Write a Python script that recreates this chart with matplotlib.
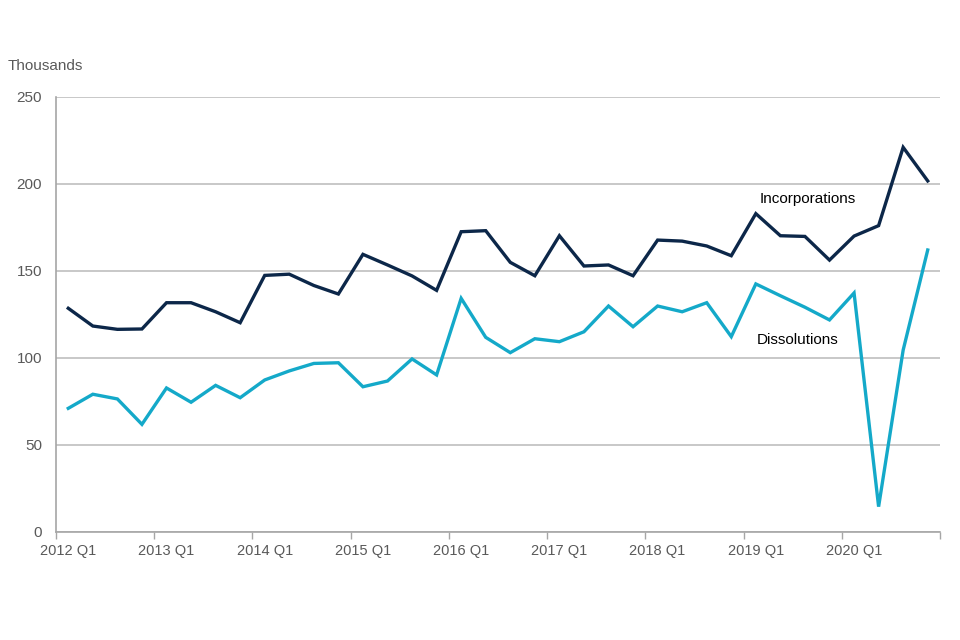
import matplotlib
matplotlib.use('Agg')
import matplotlib.pyplot as plt
import numpy as np

plt.rcParams['font.family'] = ['Liberation Sans', 'DejaVu Sans']

# Quarterly figures, 2012 Q1 to 2020 Q4 (thousands)
quarters = [f'{y} Q{q}' for y in range(2012, 2021) for q in range(1, 5)]
tick_labels = ['2012 Q1', '2013 Q1', '2014 Q1', '2015 Q1', '2016 Q1',
               '2017 Q1', '2018 Q1', '2019 Q1', '2020 Q1']

incorporations = [128.4, 118.2, 116.3, 116.5,
                  131.6, 131.6, 126.4, 120.1,
                  147.3, 148.0, 141.5, 136.6,
                  159.4, 153.3, 147.0, 138.7,
                  172.4, 173.0, 154.8, 147.1,
                  170.1, 152.7, 153.3, 147.1,
                  167.6, 167.0, 164.2, 158.6,
                  182.8, 170.1, 169.7, 156.1,
                  169.9, 175.9, 220.9, 201.6]

dissolutions = [70.9, 79.0, 76.3, 61.7,
                82.6, 74.4, 84.1, 77.0,
                87.2, 92.4, 96.7, 97.1,
                83.3, 86.6, 99.3, 90.1,
                134.1, 111.7, 102.9, 110.9,
                109.2, 114.9, 129.7, 117.8,
                129.7, 126.4, 131.6, 112.1,
                142.4, 135.6, 129.0, 121.7,
                137.2, 14.4, 104.4, 161.9]

navy = '#0c2749'
cyan = '#14a9c9'
grey_text = '#595959'

fig = plt.figure(figsize=(9.6, 6.4), dpi=100)
ax = fig.add_axes([56 / 960, 1 - 531.7 / 640, (940 - 56) / 960, (531.7 - 96.7) / 640])

x = np.arange(len(quarters))
ax.plot(x, incorporations, color=navy, lw=2.4, solid_joinstyle='miter')
ax.plot(x, dissolutions, color=cyan, lw=2.4, solid_joinstyle='miter')

ax.set_xlim(-0.5, len(quarters) - 0.5)
ax.set_ylim(0, 250)
ax.set_yticks([0, 50, 100, 150, 200, 250])
ax.yaxis.grid(True, color='#bfbfbf', lw=1.2)
ax.set_axisbelow(True)

# labels at category centres, tick marks between categories every 4 quarters
ax.set_xticks([quarters.index(t) for t in tick_labels])
ax.set_xticklabels(tick_labels)
ax.set_xticks(np.arange(-0.5, len(quarters), 4), minor=True)
ax.tick_params(axis='x', which='major', length=0, pad=9, labelsize=10.5, colors=grey_text)
ax.tick_params(axis='x', which='minor', length=5, color='#a6a6a6', width=1)
ax.tick_params(axis='y', length=0, pad=10, labelsize=11, colors=grey_text)

for s in ['top', 'right']:
    ax.spines[s].set_visible(False)
for s in ['left', 'bottom']:
    ax.spines[s].set_color('#a6a6a6')
    ax.spines[s].set_linewidth(1.2)

fig.text(8 / 960, 1 - 66 / 640, 'Thousands', fontsize=11, color=grey_text, va='center', ha='left')
ax.text(30.1, 191.2, 'Incorporations', fontsize=11, color='black', ha='center', va='center')
ax.text(29.7, 110.2, 'Dissolutions', fontsize=11, color='black', ha='center', va='center')

plt.savefig('out.png', dpi=100)
